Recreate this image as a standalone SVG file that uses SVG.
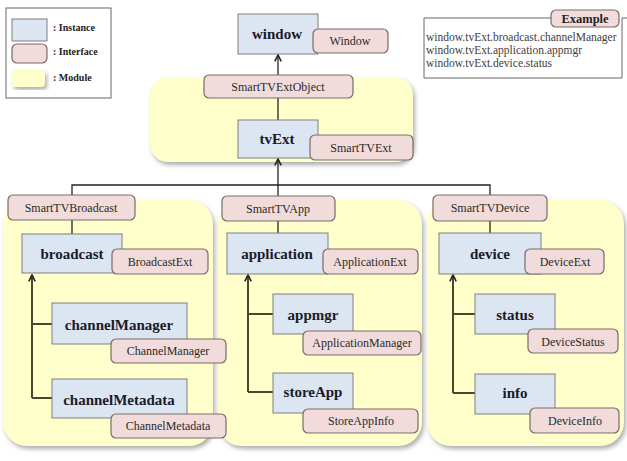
<svg xmlns="http://www.w3.org/2000/svg" width="627" height="461" viewBox="0 0 627 461">
<defs>
<filter id="sh" x="-10%" y="-10%" width="125%" height="125%">
<feDropShadow dx="2" dy="3" stdDeviation="2" flood-color="#8c8c8c" flood-opacity="0.7"/>
</filter>
<marker id="ar" viewBox="0 0 10 10" refX="9" refY="5" markerWidth="8" markerHeight="8" orient="auto" markerUnits="userSpaceOnUse">
<path d="M1,1 L9,5 L1,9" fill="none" stroke="#222" stroke-width="2"/>
</marker>
</defs>
<style>
.mod{fill:#ffffcc;filter:url(#sh)}
.ins{fill:#dce6f2;stroke:#7f7f7f;stroke-width:1}
.itf{fill:#f2dcdb;stroke:#7a6a6a;stroke-width:1.2}
text{font-family:'Liberation Serif','Times New Roman','DejaVu Serif',serif}
.tn{font-weight:bold;font-size:15px;fill:#1a1a2a;text-anchor:middle}
.ti{font-size:12px;fill:#2a2a2a;text-anchor:middle}
.tl{font-weight:bold;font-size:10px;fill:#222}
.te{font-size:11.5px;fill:#404040}
.c1{fill:none;stroke:#222;stroke-width:1.3}
.c2{fill:none;stroke:#4a4630;stroke-width:2}
</style>
<rect width="627" height="461" fill="#ffffff"/>

<g id="legend">
<rect x="6" y="8" width="105" height="90" fill="#fff" stroke="#666" stroke-width="1"/>
<rect x="12" y="19" width="35" height="22" class="ins"/>
<rect x="12" y="44" width="35" height="19" rx="5" class="itf"/>
<rect x="12" y="70" width="33" height="17" rx="4" class="mod"/>
<text x="53" y="31" class="tl">: Instance</text>
<text x="53" y="55" class="tl">: Interface</text>
<text x="53" y="81" class="tl">: Module</text>
</g>

<g id="example">
<path d="M551,18 L424,18 L424,78 L622,78 L622,18 L627,18" fill="none" stroke="#666" stroke-width="1"/>
<rect x="551" y="10" width="68" height="17" rx="5" class="itf"/>
<text x="585" y="23" class="tl" font-size="12.5" text-anchor="middle" style="font-size:12.5px;text-anchor:middle">Example</text>
<text x="426" y="41" class="te">window.tvExt.broadcast.channelManager</text>
<text x="426" y="54" class="te">window.tvExt.application.appmgr</text>
<text x="426" y="67" class="te">window.tvExt.device.status</text>
</g>

<g id="modules">
<rect id="mod-tvext" x="150" y="77" width="263" height="85" rx="18" class="mod"/>
<rect id="mod-broadcast" x="3" y="200" width="210" height="246" rx="24" class="mod"/>
<rect id="mod-app" x="218" y="200" width="204" height="246" rx="24" class="mod"/>
<rect id="mod-device" x="427" y="200" width="197" height="246" rx="24" class="mod"/>
</g>

<g id="connectors">
<line x1="278" y1="75" x2="278" y2="55" class="c1" marker-end="url(#ar)"/>
<line x1="278" y1="98" x2="278" y2="120" class="c1"/>
<line x1="278" y1="185" x2="278" y2="159" class="c1" marker-end="url(#ar)"/>
<path d="M72,195 L72,185 L490,185 L490,195" class="c1"/>
<line x1="278" y1="185" x2="278" y2="196" class="c1"/>
<line x1="72" y1="220" x2="72" y2="234" class="c1"/>
<line x1="278" y1="221" x2="278" y2="233" class="c1"/>
<line x1="490" y1="221" x2="490" y2="233" class="c1"/>
<path d="M32,398 L32,275" class="c2" marker-end="url(#ar)"/>
<path d="M32,324 L52,324 M32,398 L52,398" class="c2"/>
<path d="M248,392 L248,275" class="c2" marker-end="url(#ar)"/>
<path d="M248,314 L273,314 M248,392 L273,392" class="c2"/>
<path d="M453,393 L453,275" class="c2" marker-end="url(#ar)"/>
<path d="M453,314 L475,314 M453,393 L475,393" class="c2"/>
</g>

<g id="window">
<rect x="238" y="14" width="80" height="40" class="ins"/>
<text x="277" y="39" class="tn">window</text>
<rect x="313" y="29" width="75" height="24" rx="5" class="itf"/>
<text x="350" y="45" class="ti">Window</text>
</g>

<g id="smarttvextobject">
<rect x="204" y="75" width="149" height="23" rx="5" class="itf"/>
<text x="278" y="91" class="ti">SmartTVExtObject</text>
</g>

<g id="tvext">
<rect x="238" y="120" width="80" height="38" class="ins"/>
<text x="277" y="144" class="tn">tvExt</text>
<rect x="310" y="135" width="103" height="25" rx="5" class="itf"/>
<text x="361" y="152" class="ti">SmartTVExt</text>
</g>

<g id="smarttvbroadcast">
<rect x="8" y="195" width="127" height="25" rx="5" class="itf"/>
<text x="71" y="212" class="ti">SmartTVBroadcast</text>
</g>

<g id="broadcast">
<rect x="22" y="234" width="100" height="39" class="ins"/>
<text x="72" y="259" class="tn">broadcast</text>
<rect x="112" y="249" width="96" height="25" rx="5" class="itf"/>
<text x="160" y="266" class="ti">BroadcastExt</text>
</g>

<g id="channelmanager">
<rect x="52" y="303" width="135" height="41" class="ins"/>
<text x="119" y="330" class="tn">channelManager</text>
<rect x="111" y="339" width="115" height="24" rx="5" class="itf"/>
<text x="168" y="355" class="ti">ChannelManager</text>
</g>

<g id="channelmetadata">
<rect x="52" y="379" width="135" height="39" class="ins"/>
<text x="119" y="405" class="tn">channelMetadata</text>
<rect x="111" y="414" width="115" height="24" rx="5" class="itf"/>
<text x="168" y="430" class="ti">ChannelMetadata</text>
</g>

<g id="smarttvapp">
<rect x="222" y="196" width="113" height="25" rx="5" class="itf"/>
<text x="278" y="213" class="ti">SmartTVApp</text>
</g>

<g id="application">
<rect x="227" y="233" width="101" height="41" class="ins"/>
<text x="277" y="259" class="tn">application</text>
<rect x="323" y="249" width="95" height="25" rx="5" class="itf"/>
<text x="370" y="266" class="ti">ApplicationExt</text>
</g>

<g id="appmgr">
<rect x="273" y="294" width="80" height="40" class="ins"/>
<text x="313" y="320" class="tn">appmgr</text>
<rect x="303" y="331" width="118" height="24" rx="5" class="itf"/>
<text x="362" y="347" class="ti">ApplicationManager</text>
</g>

<g id="storeapp">
<rect x="273" y="373" width="80" height="40" class="ins"/>
<text x="313" y="397" class="tn">storeApp</text>
<rect x="303" y="409" width="115" height="24" rx="5" class="itf"/>
<text x="361" y="425" class="ti">StoreAppInfo</text>
</g>

<g id="smarttvdevice">
<rect x="433" y="195" width="114" height="26" rx="5" class="itf"/>
<text x="490" y="212" class="ti">SmartTVDevice</text>
</g>

<g id="device">
<rect x="439" y="233" width="102" height="41" class="ins"/>
<text x="490" y="259" class="tn">device</text>
<rect x="525" y="249" width="79" height="25" rx="5" class="itf"/>
<text x="565" y="266" class="ti">DeviceExt</text>
</g>

<g id="status">
<rect x="475" y="294" width="80" height="40" class="ins"/>
<text x="515" y="320" class="tn">status</text>
<rect x="528" y="329" width="90" height="24" rx="5" class="itf"/>
<text x="573" y="346" class="ti">DeviceStatus</text>
</g>

<g id="info">
<rect x="475" y="374" width="80" height="40" class="ins"/>
<text x="515" y="398" class="tn">info</text>
<rect x="530" y="408" width="89" height="25" rx="5" class="itf"/>
<text x="575" y="425" class="ti">DeviceInfo</text>
</g>
</svg>
